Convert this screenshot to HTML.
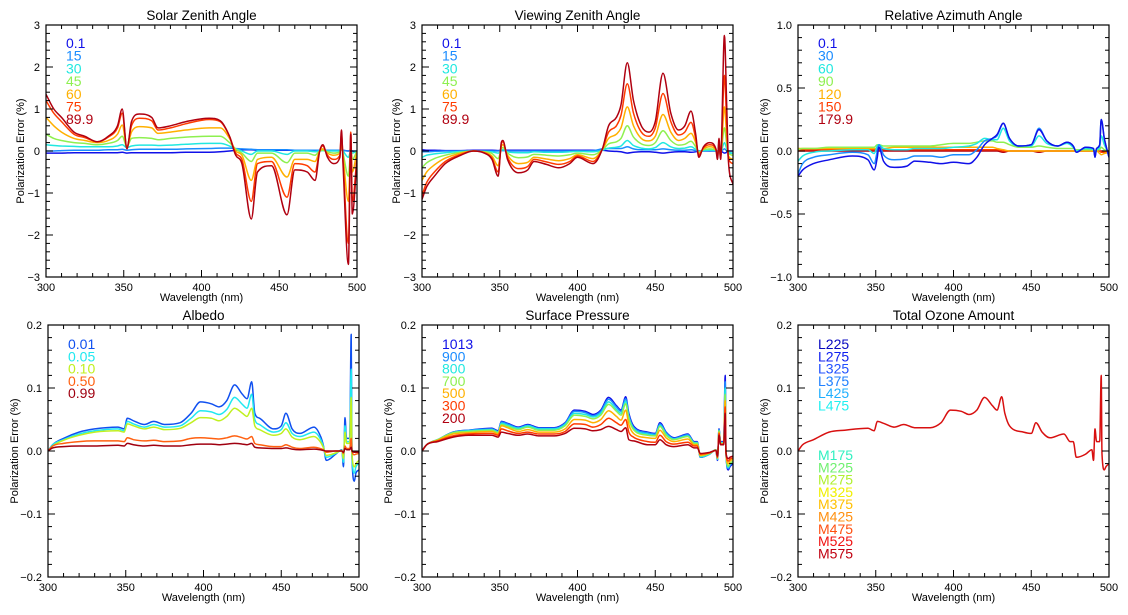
<!DOCTYPE html>
<html><head><meta charset="utf-8"><style>
html,body{margin:0;padding:0;background:#fff;}
svg{display:block;font-family:"Liberation Sans",sans-serif;}
</style></head><body>
<svg id="fig" width="1128" height="615" viewBox="0 0 1128 615" xmlns="http://www.w3.org/2000/svg"></svg>
<script>
// ---- shared data ----
const xTicks = [300, 350, 400, 450, 500];
const sevenColors = ['#1010e8','#1a8cff','#20e8e0','#8ef050','#ffb000','#ff3c00','#b00010'];

// Solar Zenith Angle
const szaWl = [300,305,310,318,325,333,340,346,349,352,355,360,368,372,380,390,405,412,418,422,426,432,436,445,455,460,468,473,476,478,481,485,489,490,491,494.5,496,497,500];
const szaLabels = ['0.1','15','30','45','60','75','89.9'];
const sza_01 = [-0.05,-0.05,-0.05,-0.04,-0.04,-0.04,-0.04,-0.04,-0.03,-0.05,-0.04,-0.04,-0.04,-0.04,-0.04,-0.03,-0.03,-0.02,0,0.02,0.03,0.03,0.02,0.02,0.02,0.02,0.02,0.02,0.02,0.02,0.02,0.02,0.02,0.03,0.02,0,0.02,0,-0.05];
const sza_15 = [0,0,0.01,0.02,0.02,0.02,0.03,0.03,0.04,0.02,0.03,0.04,0.04,0.04,0.04,0.05,0.06,0.07,0.07,0.06,0.05,0.04,0.03,0.03,0.03,0.02,0.02,0.02,0.02,0.02,0.02,0.02,0.02,0.05,0.02,0,0.02,0,0];
const sza_30 = [0.15,0.13,0.12,0.11,0.1,0.1,0.1,0.12,0.15,0.08,0.12,0.14,0.14,0.13,0.14,0.16,0.18,0.18,0.12,0.05,0,-0.08,0,0,-0.08,0,0,-0.02,0,0.01,0,0,0,0.03,0,-0.15,0,-0.05,0];
const sza_45 = [0.4,0.3,0.25,0.2,0.18,0.15,0.18,0.25,0.35,0.1,0.3,0.32,0.3,0.27,0.3,0.33,0.35,0.35,0.2,0.05,-0.05,-0.25,-0.05,-0.05,-0.28,-0.05,-0.05,-0.1,0,0.02,-0.02,-0.05,-0.02,0.08,-0.05,-0.6,0.05,-0.2,0];
const sza_60 = [0.8,0.6,0.45,0.3,0.25,0.2,0.25,0.4,0.62,0.1,0.45,0.58,0.55,0.42,0.45,0.5,0.55,0.55,0.3,0,-0.1,-0.7,-0.2,-0.15,-0.62,-0.2,-0.2,-0.25,0,0.05,-0.05,-0.1,-0.05,0.2,-0.1,-1.2,0.1,-0.5,0];
const sza_75 = [1.2,0.9,0.7,0.4,0.32,0.22,0.33,0.55,0.9,0.1,0.6,0.78,0.72,0.5,0.55,0.65,0.75,0.7,0.35,-0.05,-0.2,-1.2,-0.3,-0.25,-1.1,-0.3,-0.35,-0.5,0,0.12,-0.1,-0.2,-0.1,0.4,-0.2,-2.2,0.45,-1.2,-0.15];
const sza_899 = [1.35,1.0,0.8,0.45,0.35,0.22,0.35,0.6,1.0,0.05,0.7,0.88,0.8,0.55,0.6,0.7,0.78,0.72,0.35,-0.1,-0.3,-1.62,-0.5,-0.35,-1.52,-0.45,-0.5,-0.7,0,0.15,-0.15,-0.3,-0.15,0.5,-0.3,-2.7,0.4,-1.5,-0.2];

// Viewing Zenith Angle
const vzaWl = [300,303,308,315,325,333,340,345,349,351,352,355,362,368,372,380,388,395,400,410,416,420,425,428,432,436,441,446,450,455,460,465,469,473,476,478,481,485,489,490,491,492,494.5,496,497,500];
const vzaLabels = ['0.1','15','30','45','60','75','89.9'];
const vza_01 = [0.03,0.02,0.02,0.01,0.01,0.02,0.02,0.02,0.01,0.02,0.02,0.02,0.02,0.02,0.02,0.02,0.02,0.02,0.02,0.02,0.02,0,-0.01,-0.02,-0.05,-0.03,-0.02,-0.02,-0.03,-0.05,-0.03,-0.02,-0.02,-0.03,-0.02,0,0,0,0,0,0,0,-0.05,-0.03,0,0];
const vza_15 = [-0.02,-0.02,-0.01,0,0,0,0,0,0,0.01,0.01,0,0,0,0,0,0,0,0,0.01,0.05,0.06,0.06,0.06,0.1,0.05,0.03,0.03,0.03,0.05,0.03,0.02,0.02,0.03,0.01,0,0,0.01,0,-0.01,0.01,-0.01,0.05,0,-0.05,-0.05];
const vza_30 = [-0.15,-0.1,-0.07,-0.04,-0.01,0,-0.01,-0.02,-0.05,0.02,0.03,-0.02,-0.04,-0.04,-0.02,-0.03,-0.03,-0.02,-0.01,-0.02,0.02,0.07,0.09,0.12,0.25,0.13,0.07,0.05,0.08,0.2,0.1,0.06,0.07,0.1,0.04,-0.01,0.01,0.02,0.01,-0.02,0.03,-0.02,0.2,0.05,-0.02,-0.05];
const vza_45 = [-0.4,-0.28,-0.18,-0.1,-0.03,0,-0.02,-0.06,-0.18,0.05,0.08,-0.05,-0.16,-0.14,-0.08,-0.1,-0.12,-0.09,-0.05,-0.09,0.03,0.17,0.22,0.3,0.6,0.33,0.17,0.13,0.2,0.48,0.25,0.14,0.16,0.23,0.1,-0.03,0.03,0.05,0.02,-0.05,0.06,-0.05,0.55,0.15,-0.05,-0.1];
const vza_60 = [-0.7,-0.5,-0.33,-0.17,-0.05,0,-0.03,-0.12,-0.35,0.1,0.15,-0.1,-0.3,-0.27,-0.15,-0.19,-0.23,-0.18,-0.09,-0.18,0.04,0.3,0.4,0.55,1.05,0.6,0.3,0.24,0.35,0.87,0.45,0.25,0.3,0.42,0.2,-0.06,0.05,0.1,0.03,-0.1,0.12,-0.1,1.05,0.3,-0.1,-0.2];
const vza_75 = [-1.05,-0.75,-0.5,-0.25,-0.08,0,-0.04,-0.17,-0.5,0.15,0.22,-0.15,-0.42,-0.37,-0.2,-0.26,-0.32,-0.25,-0.12,-0.25,0.05,0.45,0.6,0.85,1.6,0.9,0.45,0.35,0.55,1.37,0.7,0.38,0.45,0.68,0.3,-0.1,0.08,0.15,0.04,-0.15,0.2,-0.15,1.8,0.6,-0.15,-0.3];
const vza_899 = [-1.15,-0.85,-0.6,-0.3,-0.1,0,-0.05,-0.2,-0.6,0.2,0.25,-0.2,-0.52,-0.45,-0.25,-0.32,-0.4,-0.3,-0.15,-0.3,0.05,0.6,0.8,1.1,2.1,1.2,0.6,0.45,0.7,1.85,0.9,0.5,0.6,0.95,0.4,-0.15,0.1,0.2,0.05,-0.2,0.3,-0.2,2.75,1.0,-0.2,-0.8];

// Relative Azimuth Angle
const raaWl = [300,303,310,320,335,345,349,351,352,355,362,370,375,385,392,400,410,415,420,425,428,432,436,442,450,455,460,467,473,477,479,485,490,491,492,494,495,497,500];
const raaLabels = ['0.1','30','60','90','120','150','179.9'];
const raa_01 = [-0.2,-0.15,-0.1,-0.07,-0.04,-0.07,-0.15,-0.05,0.03,-0.08,-0.13,-0.12,-0.08,-0.09,-0.1,-0.09,-0.1,-0.05,0.05,0.1,0.13,0.22,0.1,0.04,0.05,0.17,0.08,0.04,0.07,0.04,-0.01,0.03,0.02,-0.05,0.02,0.05,0.25,0.1,-0.05];
const raa_30 = [-0.18,-0.1,-0.05,-0.03,-0.01,-0.03,-0.1,0,0.05,-0.03,-0.07,-0.06,-0.04,-0.04,-0.05,-0.03,-0.03,0.01,0.08,0.1,0.12,0.22,0.1,0.04,0.05,0.18,0.08,0.04,0.07,0.04,-0.01,0.03,0.02,-0.05,0.02,0.05,0.25,0.1,-0.05];
const raa_60 = [-0.08,-0.04,-0.01,0,0.01,0.01,-0.02,0.04,0.05,0.02,0.01,0.01,0.02,0.02,0.02,0.03,0.04,0.06,0.1,0.09,0.09,0.18,0.08,0.04,0.04,0.12,0.06,0.04,0.06,0.03,0,0.02,0.01,-0.02,0.01,0.03,0.12,0.05,-0.02];
const raa_90 = [0.01,0.02,0.02,0.03,0.03,0.03,0.03,0.05,0.05,0.04,0.04,0.04,0.04,0.04,0.05,0.06,0.06,0.07,0.08,0.08,0.07,0.07,0.05,0.03,0.03,0.04,0.03,0.02,0.02,0.02,0.01,0.01,0.01,0,0.01,0.01,0.03,0.01,0];
const raa_120 = [0.02,0.02,0.02,0.02,0.02,0.02,0.02,0.02,0.03,0.02,0.03,0.03,0.03,0.03,0.03,0.03,0.03,0.03,0.03,0.03,0.02,0.01,0,0,0,0,0,0,0,0,0,0,0,0,0,-0.02,-0.03,-0.02,-0.01];
const raa_150 = [0.01,0.01,0.01,0.01,0.01,0.01,0.01,0.01,0.01,0.01,0.01,0.01,0.01,0.01,0.01,0.01,0.01,0.01,0.01,0.01,0.01,0,0,0,0,0,0,0,0,0,0,0,0,0,0,0,-0.01,-0.01,0];
const raa_1799 = [0,0,0,0,0,0,0,0,0,0,0,0,0,0,0,0,0,0,0,0,0,-0.01,0,0,0,-0.01,0,0,0,0,0,0,0,0,0,0,0,0,0];

// Row 2 shared wavelength grid
const wlB = [300,303,310,320,330,345,349,351,355,362,368,375,385,392,398,405,410,415,420,425,428,431,433,436,445,450,453,457,462,471,475,477,479,485,489,490,491,492,494,495,495.5,497,498,500];

// Albedo
const albLabels = ['0.01','0.05','0.10','0.50','0.99'];
const albColors = ['#1050f0','#20e8f0','#c0f020','#ff6010','#a00010'];
const alb_001 = [0,0.01,0.02,0.03,0.035,0.038,0.035,0.052,0.048,0.042,0.047,0.042,0.045,0.06,0.078,0.075,0.07,0.08,0.105,0.09,0.083,0.11,0.06,0.052,0.035,0.04,0.06,0.035,0.028,0.038,0.025,0.01,-0.015,-0.005,0.002,-0.025,0.053,0.02,0.02,0.185,-0.01,-0.048,-0.035,-0.03];
const alb_005 = [0,0.01,0.018,0.027,0.032,0.035,0.032,0.047,0.043,0.038,0.042,0.038,0.04,0.052,0.064,0.062,0.058,0.066,0.085,0.074,0.068,0.09,0.05,0.042,0.03,0.034,0.045,0.028,0.023,0.03,0.02,0.008,-0.01,-0.004,0.001,-0.018,0.04,0.015,0.015,0.13,-0.008,-0.035,-0.025,-0.02];
const alb_010 = [0,0.008,0.017,0.025,0.03,0.032,0.03,0.043,0.04,0.035,0.038,0.034,0.036,0.045,0.053,0.052,0.048,0.055,0.068,0.06,0.055,0.068,0.04,0.034,0.025,0.028,0.035,0.022,0.018,0.023,0.015,0.006,-0.007,-0.003,0.001,-0.012,0.03,0.012,0.012,0.085,-0.005,-0.025,-0.02,-0.015];
const alb_050 = [0,0.008,0.012,0.015,0.016,0.016,0.015,0.021,0.018,0.016,0.017,0.015,0.016,0.02,0.021,0.02,0.019,0.021,0.024,0.021,0.019,0.023,0.012,0.01,0.007,0.007,0.01,0.006,0.004,0.006,0.004,0.002,-0.002,0,0,-0.004,0.008,0.004,0.004,0.02,0,-0.006,-0.005,-0.004];
const alb_099 = [0,0.005,0.007,0.008,0.008,0.009,0.008,0.012,0.01,0.008,0.009,0.008,0.008,0.01,0.011,0.011,0.01,0.011,0.012,0.011,0.01,0.012,0.006,0.005,0.004,0.004,0.005,0.003,0.002,0.003,0.002,0.001,0,0,0,-0.002,0.004,0.002,0.002,0.006,0,-0.002,-0.002,-0.002];

// Surface Pressure
const spLabels = ['1013','900','800','700','500','300','200'];
const sp_1013 = [0,0.01,0.018,0.03,0.033,0.036,0.032,0.047,0.044,0.038,0.042,0.037,0.037,0.045,0.065,0.063,0.058,0.065,0.085,0.072,0.065,0.086,0.06,0.04,0.03,0.028,0.045,0.03,0.021,0.027,0.015,0.015,-0.01,-0.005,0.002,-0.015,0.035,0.015,0.015,0.12,-0.005,-0.03,-0.025,-0.02];
const sp_900 = [0,0.01,0.018,0.03,0.033,0.035,0.031,0.046,0.043,0.037,0.041,0.036,0.036,0.044,0.063,0.061,0.056,0.063,0.082,0.07,0.063,0.083,0.057,0.038,0.029,0.027,0.043,0.029,0.02,0.026,0.014,0.014,-0.01,-0.005,0.002,-0.014,0.034,0.014,0.014,0.11,-0.005,-0.028,-0.023,-0.018];
const sp_800 = [0,0.01,0.018,0.029,0.032,0.034,0.03,0.044,0.041,0.036,0.04,0.035,0.035,0.042,0.06,0.058,0.054,0.06,0.078,0.066,0.06,0.079,0.054,0.036,0.027,0.025,0.041,0.027,0.019,0.024,0.013,0.013,-0.009,-0.005,0.002,-0.013,0.033,0.013,0.013,0.1,-0.005,-0.026,-0.021,-0.017];
const sp_700 = [0,0.01,0.018,0.029,0.031,0.033,0.029,0.042,0.039,0.034,0.038,0.033,0.033,0.04,0.057,0.055,0.051,0.057,0.074,0.063,0.057,0.075,0.051,0.034,0.025,0.024,0.039,0.025,0.018,0.023,0.012,0.012,-0.008,-0.004,0.002,-0.012,0.032,0.012,0.012,0.09,-0.004,-0.024,-0.02,-0.016];
const sp_500 = [0,0.01,0.017,0.027,0.029,0.031,0.027,0.04,0.037,0.031,0.034,0.03,0.03,0.035,0.05,0.049,0.045,0.05,0.064,0.055,0.049,0.065,0.042,0.028,0.021,0.02,0.033,0.021,0.015,0.019,0.01,0.01,-0.007,-0.003,0.001,-0.011,0.03,0.011,0.011,0.08,-0.004,-0.02,-0.016,-0.013];
const sp_300 = [0,0.01,0.016,0.024,0.027,0.028,0.025,0.035,0.032,0.028,0.03,0.027,0.027,0.031,0.043,0.042,0.038,0.042,0.052,0.045,0.041,0.05,0.03,0.022,0.015,0.014,0.025,0.015,0.011,0.014,0.008,0.008,-0.005,-0.003,0.001,-0.01,0.028,0.011,0.011,0.07,-0.003,-0.016,-0.013,-0.011];
const sp_200 = [0,0.01,0.015,0.022,0.025,0.025,0.022,0.03,0.028,0.025,0.027,0.024,0.024,0.028,0.036,0.035,0.032,0.034,0.039,0.034,0.031,0.037,0.018,0.016,0.01,0.01,0.018,0.01,0.007,0.01,0.005,0.005,-0.004,-0.002,0.001,-0.008,0.025,0.01,0.01,0.06,-0.003,-0.012,-0.01,-0.008];

// Total Ozone Amount
const ozLabelsL = ['L225','L275','L325','L375','L425','L475'];
const ozLabelsM = ['M175','M225','M275','M325','M375','M425','M475','M525','M575'];
const ozColorsL = ['#0808c0','#1020f0','#2050ff','#2080ff','#20b0ff','#20f0f0'];
const ozColorsM = ['#30f0c0','#70f070','#b0f030','#f0f000','#ffc000','#ff9010','#ff5010','#f01010','#c00010'];
const oz_all = [0,0.01,0.018,0.03,0.033,0.036,0.032,0.047,0.044,0.038,0.042,0.037,0.037,0.045,0.065,0.063,0.058,0.065,0.085,0.072,0.065,0.086,0.06,0.04,0.03,0.028,0.045,0.03,0.021,0.027,0.015,0.015,-0.01,-0.005,0.002,-0.015,0.035,0.015,0.015,0.12,-0.005,-0.03,-0.025,-0.02];

// ---- drawing ----
const NS = 'http://www.w3.org/2000/svg';
const svg = document.getElementById('fig');
function mk(tag, attrs, parent){ const e=document.createElementNS(NS,tag); for(const k in attrs) e.setAttribute(k,attrs[k]); (parent||svg).appendChild(e); return e; }

// monotone cubic path through pixel points (no overshoot)
function smoothPath(px, py){
  const n=px.length; if(n<2) return '';
  const d=[], m=new Array(n);
  for(let i=0;i<n-1;i++){ const h=px[i+1]-px[i]; d.push(h>0?(py[i+1]-py[i])/h:0); }
  m[0]=d[0]; m[n-1]=d[n-2];
  for(let i=1;i<n-1;i++){ m[i]=(d[i-1]*d[i]<=0)?0:(d[i-1]+d[i])/2; }
  for(let i=0;i<n-1;i++){
    if(d[i]===0){ m[i]=0; m[i+1]=0; continue; }
    const a=m[i]/d[i], b=m[i+1]/d[i], s=a*a+b*b;
    if(s>9){ const t=3/Math.sqrt(s); m[i]=t*a*d[i]; m[i+1]=t*b*d[i]; }
  }
  let p='M'+px[0].toFixed(1)+' '+py[0].toFixed(1);
  for(let i=0;i<n-1;i++){
    const h=(px[i+1]-px[i])/3;
    p+='C'+(px[i]+h).toFixed(1)+' '+(py[i]+m[i]*h).toFixed(1)+' '+(px[i+1]-h).toFixed(1)+' '+(py[i+1]-m[i+1]*h).toFixed(1)+' '+px[i+1].toFixed(1)+' '+py[i+1].toFixed(1);
  }
  return p;
}

function panel(o){
  const g = mk('g',{});
  
  
  const L=o.x, T=o.y, W=311, H=252;
  const sx = v => L + (v-300)/200*W;
  const sy = v => T + (o.ymax-v)/(o.ymax-o.ymin)*H;
  const t = mk('text',{x:L+W/2,y:T-5,'text-anchor':'middle','font-size':13.5,fill:'#000'},g);
  t.textContent=o.title;
  
  
  const clipId='clip-'+o.name;
  const cp=mk('clipPath',{id:clipId},g);
  mk('rect',{x:L,y:T,width:W,height:H},cp);
  const sg=mk('g',{'clip-path':'url(#'+clipId+')'},g);
  o.series.forEach((s,i)=>{
    const n=Math.min(s.wl.length,s.v.length);
    const px=[],py=[];
    for(let k=0;k<n;k++){ px.push(sx(s.wl[k])); py.push(sy(s.v[k])); }
    const p=mk('path',{d:smoothPath(px,py),fill:'none',stroke:s.c,'stroke-width':1.5,'stroke-linejoin':'round'},sg);
    
    
  });
  const fr = mk('rect',{x:L,y:T,width:W,height:H,fill:'none',stroke:'#000','stroke-width':1.2},g);
  
  
  for(let v=300; v<=500; v+=10){
    const len = (v%50===0)?7:4;
    const X=sx(v);
    mk('line',{x1:X,y1:T+H,x2:X,y2:T+H-len,stroke:'#000','stroke-width':1},g);
    mk('line',{x1:X,y1:T,x2:X,y2:T+len,stroke:'#000','stroke-width':1},g);
  }
  xTicks.forEach(v=>{
    const tx=mk('text',{x:sx(v),y:T+H+14,'text-anchor':'middle','font-size':11,fill:'#000'},g);
    tx.textContent=v;
    
    
  });
  const nMin = Math.round((o.ymax-o.ymin)/o.minor);
  for(let k=0;k<=nMin;k++){
    const v=o.ymin+k*o.minor;
    const isMaj = Math.abs(Math.round((v-o.ymin)/o.major)*o.major-(v-o.ymin))<1e-6;
    const len=isMaj?7:4; const Y=sy(v);
    mk('line',{x1:L,y1:Y,x2:L+len,y2:Y,stroke:'#000','stroke-width':1},g);
    mk('line',{x1:L+W,y1:Y,x2:L+W-len,y2:Y,stroke:'#000','stroke-width':1},g);
  }
  o.yTicks.forEach((lab,i)=>{
    const v=o.ymin+i*o.major;
    const ty=mk('text',{x:L-6,y:sy(v)+4,'text-anchor':'end','font-size':11,fill:'#000'},g);
    ty.textContent=lab;
    
    
  });
  const xt=mk('text',{x:L+W/2,y:T+H+24,'text-anchor':'middle','font-size':11,fill:'#000'},g);
  xt.textContent='Wavelength (nm)';
  
  
  const yx=L-o.ylabOff, yy=T+H/2;
  const yt=mk('text',{x:yx,y:yy,'text-anchor':'middle','font-size':11,fill:'#000',transform:'rotate(-90 '+yx+' '+yy+')'},g);
  yt.textContent='Polarization Error (%)';
  
  
  o.legend.forEach(le=>{
    const lt=mk('text',{x:L+20,y:le.y+5,'font-size':14,fill:le.c},g);
    lt.textContent=le.t;
    
    
  });
}

function leg(labels, colors, y0, dy){ return labels.map((t,i)=>({t:t,c:colors[i],y:y0+i*dy})); }
function ser(wl, arrs, colors){ return arrs.map((v,i)=>({wl:wl,v:v,c:colors[i]})); }

const yt3=['\u22123','\u22122','\u22121','0','1','2','3'];
const yt1=['\u22121.0','\u22120.5','0.0','0.5','1.0'];
const yt02=['\u22120.2','\u22120.1','0.0','0.1','0.2'];

panel({name:'panel-solar-zenith',title:'Solar Zenith Angle',x:46,y:25,ymin:-3,ymax:3,major:1,minor:0.2,yTicks:yt3,ylabOff:22,
  series:ser(szaWl,[sza_01,sza_15,sza_30,sza_45,sza_60,sza_75,sza_899],sevenColors),
  legend:leg(szaLabels,sevenColors,43,12.7)});
panel({name:'panel-viewing-zenith',title:'Viewing Zenith Angle',x:422,y:25,ymin:-3,ymax:3,major:1,minor:0.2,yTicks:yt3,ylabOff:22,
  series:ser(vzaWl,[vza_01,vza_15,vza_30,vza_45,vza_60,vza_75,vza_899],sevenColors),
  legend:leg(vzaLabels,sevenColors,43,12.7)});
panel({name:'panel-relative-azimuth',title:'Relative Azimuth Angle',x:798,y:25,ymin:-1,ymax:1,major:0.5,minor:0.1,yTicks:yt1,ylabOff:30,
  series:ser(raaWl,[raa_1799,raa_150,raa_120,raa_90,raa_60,raa_30,raa_01],sevenColors.slice().reverse()),
  legend:leg(raaLabels,sevenColors,43,12.7)});
panel({name:'panel-albedo',title:'Albedo',x:48,y:325,ymin:-0.2,ymax:0.2,major:0.1,minor:0.02,yTicks:yt02,ylabOff:30,
  series:ser(wlB,[alb_001,alb_005,alb_010,alb_050,alb_099],albColors),
  legend:leg(albLabels,albColors,344,12.3)});
panel({name:'panel-surface-pressure',title:'Surface Pressure',x:422,y:325,ymin:-0.2,ymax:0.2,major:0.1,minor:0.02,yTicks:yt02,ylabOff:30,
  series:ser(wlB,[sp_1013,sp_900,sp_800,sp_700,sp_500,sp_300,sp_200],sevenColors),
  legend:leg(spLabels,sevenColors,344,12.3)});
panel({name:'panel-total-ozone',title:'Total Ozone Amount',x:798,y:325,ymin:-0.2,ymax:0.2,major:0.1,minor:0.02,yTicks:yt02,ylabOff:30,
  series:[{wl:wlB,v:oz_all,c:'#d81010'}],
  legend:leg(ozLabelsL,ozColorsL,344,12.3).concat(leg(ozLabelsM,ozColorsM,455,12.3))});
</script>
</body></html>
